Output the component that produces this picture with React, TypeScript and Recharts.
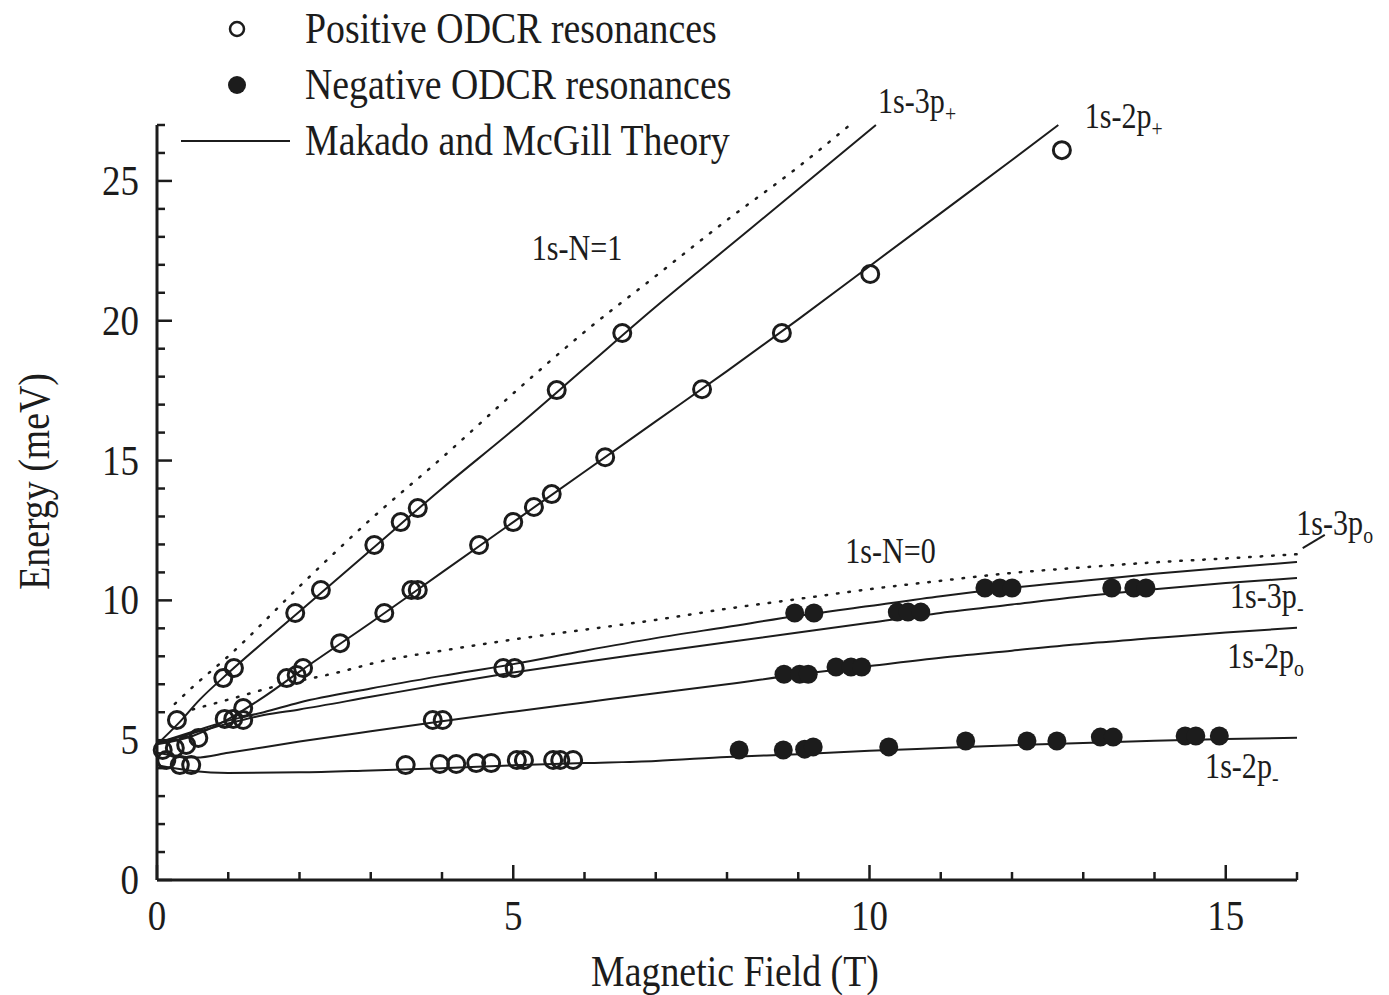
import React from "react";
import { ComposedChart, Line, Scatter, XAxis, YAxis, Legend, ReferenceDot, ReferenceLine } from "recharts";

const ink = "#1c1c1c";
const serif = "'Liberation Serif', 'Times New Roman', Times, serif";

// axis ticks (every 1 T / 1 meV, labelled every 5)
const fieldTicks = [0, 1, 2, 3, 4, 5, 6, 7, 8, 9, 10, 11, 12, 13, 14, 15, 16];
const energyTicks = [0, 1, 2, 3, 4, 5, 6, 7, 8, 9, 10, 11, 12, 13, 14, 15, 16, 17, 18, 19, 20, 21, 22, 23, 24, 25, 26, 27];

// Makado and McGill theory, [B (T), E (meV)]
const theory3pPlus = [[0, 4.85], [0.3, 5.6], [0.6, 6.45], [1, 7.4], [2, 9.6], [3, 11.8], [4, 14.0], [5, 16.1], [6, 18.3], [7, 20.5], [8, 22.6], [9, 24.7], [10.09, 27.0]];
const theory2pPlus = [[0, 4.85], [0.5, 5.15], [1, 5.75], [1.5, 6.55], [2, 7.45], [3, 9.2], [4, 11.0], [5, 12.8], [6, 14.6], [7, 16.4], [8, 18.2], [9, 20.05], [10, 21.95], [11, 23.85], [12, 25.75], [12.65, 27.0]];
const theory3p0 = [[0, 4.9], [0.5, 5.3], [1, 5.7], [1.5, 6.0], [2, 6.35], [3, 6.85], [4, 7.3], [5, 7.72], [6, 8.2], [7, 8.65], [8, 9.05], [9, 9.45], [10, 9.8], [11, 10.15], [12, 10.45], [13, 10.7], [14, 10.95], [15, 11.17], [16, 11.37]];
const theory3pMinus = [[0, 4.9], [0.5, 5.25], [1, 5.6], [1.5, 5.9], [2, 6.1], [3, 6.55], [4, 7.0], [5, 7.42], [6, 7.8], [7, 8.15], [8, 8.5], [9, 8.85], [10, 9.2], [11, 9.55], [12, 9.85], [13, 10.15], [14, 10.4], [15, 10.62], [16, 10.8]];
const theory2p0 = [[0, 4.55], [0.55, 4.38], [1, 4.55], [2, 4.95], [3, 5.32], [4, 5.68], [5, 6.02], [6, 6.35], [7, 6.68], [8, 7.0], [9, 7.35], [10, 7.65], [11, 7.95], [12, 8.2], [13, 8.45], [14, 8.65], [15, 8.85], [16, 9.02]];
const theory2pMinus = [[0, 4.1], [0.5, 3.9], [1, 3.83], [2, 3.85], [3, 3.92], [4, 4.0], [5, 4.1], [6, 4.18], [7, 4.26], [8, 4.4], [9, 4.5], [10, 4.62], [11, 4.72], [12, 4.82], [13, 4.9], [14, 4.98], [15, 5.04], [16, 5.09]];

// Landau level limits (dotted)
const landauN1 = [[0.25, 6.3], [0.5, 6.9], [1, 8.0], [2, 10.5], [3, 12.9], [4, 15.1], [5, 17.4], [6, 19.6], [7, 21.6], [8, 23.6], [9, 25.5], [9.7, 26.95]];
const landauN0 = [[0.5, 6.1], [1, 6.45], [1.7, 6.95], [2.5, 7.4], [3.2, 7.85], [4, 8.2], [5, 8.6], [6, 8.95], [7, 9.3], [8, 9.7], [9, 10.05], [10, 10.4], [11, 10.7], [12, 10.98], [13, 11.18], [14, 11.36], [15, 11.5], [16, 11.65]];

// positive ODCR resonances
const pos3pPlus = [[0.28, 5.72], [0.93, 7.22], [1.08, 7.58], [1.94, 9.55], [2.3, 10.37], [3.05, 11.98], [3.42, 12.8], [3.66, 13.3], [5.61, 17.52], [6.53, 19.56]];
const pos2pPlus = [[1.82, 7.22], [1.96, 7.33], [2.05, 7.58], [2.57, 8.47], [3.19, 9.55], [3.57, 10.37], [3.66, 10.37], [4.52, 11.98], [5.0, 12.8], [5.29, 13.34], [5.54, 13.8], [6.29, 15.12], [7.65, 17.55], [8.77, 19.56], [10.01, 21.67], [12.7, 26.1]];
const posLowField = [[0.08, 4.65], [0.13, 4.29], [0.25, 4.72], [0.32, 4.11], [0.41, 4.83], [0.48, 4.11], [0.58, 5.08], [0.95, 5.76], [1.07, 5.76], [1.21, 6.15], [1.21, 5.72]];
const posLowerBranches = [[3.87, 5.72], [4.01, 5.72], [4.86, 7.58], [5.02, 7.58]];
const pos2pMinus = [[3.49, 4.11], [3.97, 4.15], [4.2, 4.15], [4.48, 4.18], [4.69, 4.18], [5.05, 4.29], [5.15, 4.29], [5.56, 4.29], [5.66, 4.29], [5.84, 4.29]];

// negative ODCR resonances
const neg3p = [[8.95, 9.55], [9.22, 9.55], [10.39, 9.58], [10.54, 9.58], [10.72, 9.58], [11.62, 10.44], [11.83, 10.44], [12.0, 10.44], [13.4, 10.44], [13.71, 10.44], [13.88, 10.44]];
const neg2p0 = [[8.8, 7.36], [9.02, 7.36], [9.14, 7.36], [9.53, 7.62], [9.74, 7.62], [9.89, 7.62]];
const neg2pMinus = [[8.17, 4.65], [8.79, 4.65], [9.09, 4.68], [9.21, 4.76], [10.27, 4.76], [11.35, 4.97], [12.21, 4.97], [12.63, 4.97], [13.24, 5.11], [13.42, 5.11], [14.43, 5.15], [14.58, 5.15], [14.91, 5.15]];

// curve names: anchor at text start / baseline
const curveLabels = [
  { x: 10.12, y: 27.42, text: "1s-3p", sub: "+" },
  { x: 13.02, y: 26.89, text: "1s-2p", sub: "+" },
  { x: 5.26, y: 22.17, text: "1s-N=1", sub: "" },
  { x: 9.66, y: 11.33, text: "1s-N=0", sub: "" },
  { x: 15.99, y: 12.33, text: "1s-3p", sub: "o" },
  { x: 15.06, y: 9.72, text: "1s-3p", sub: "-" },
  { x: 15.02, y: 7.58, text: "1s-2p", sub: "o" },
  { x: 14.71, y: 3.65, text: "1s-2p", sub: "-" },
];
const leader3p0 = [{ x: 16.08, y: 11.87 }, { x: 16.39, y: 12.34 }];

const legendLabels = ["Positive ODCR resonances", "Negative ODCR resonances", "Makado and McGill Theory"];

const pts = (pairs: number[][]) => pairs.map(([x, y]) => ({ x, y }));

const solidCurves = [theory3pPlus, theory2pPlus, theory3p0, theory3pMinus, theory2p0, theory2pMinus];
const dottedCurves = [landauN1, landauN0];
const positive = pts([...pos3pPlus, ...pos2pPlus, ...posLowField, ...posLowerBranches, ...pos2pMinus]);
const negative = pts([...neg3p, ...neg2p0, ...neg2pMinus]);

const OpenRing = (p: any) => <circle cx={p.cx} cy={p.cy} r={8.5} fill="none" stroke={ink} strokeWidth={3} />;
const SolidDot = (p: any) => <circle cx={p.cx} cy={p.cy} r={9.5} fill={ink} />;

// narrow Times-like lettering
function NarrowText({ x, y, size, anchor = "start", children }: any) {
  return (
    <g transform={`translate(${x}, ${y}) scale(0.86, 1)`}>
      <text x={0} y={0} textAnchor={anchor} fontSize={size} fontFamily={serif} fill={ink}>
        {children}
      </text>
    </g>
  );
}

function FieldTick({ x, y, payload }: any) {
  const v = payload.value;
  const major = v % 5 === 0;
  return (
    <g>
      <line x1={x} y1={y} x2={x} y2={y - (major ? 15 : 8)} stroke={ink} strokeWidth={2.5} />
      {major && (
        <NarrowText x={x} y={y + 50} size={43} anchor="middle">
          {v}
        </NarrowText>
      )}
    </g>
  );
}

function EnergyTick({ x, y, payload }: any) {
  const v = payload.value;
  const major = v % 5 === 0;
  return (
    <g>
      <line x1={x} y1={y} x2={x + (major ? 15 : 8)} y2={y} stroke={ink} strokeWidth={2.5} />
      {major && (
        <NarrowText x={x - 18} y={y + 14} size={43} anchor="end">
          {v}
        </NarrowText>
      )}
    </g>
  );
}

function CurveName({ cx, cy, text, sub }: any) {
  return (
    <NarrowText x={cx} y={cy} size={35}>
      {text}
      {sub && (
        <tspan fontSize={23} dy={8}>
          {sub}
        </tspan>
      )}
    </NarrowText>
  );
}

function renderLegend() {
  return (
    <svg width={900} height={170} style={{ overflow: "visible" }}>
      <circle cx={237} cy={29} r={7} fill="none" stroke={ink} strokeWidth={2.5} />
      <circle cx={237} cy={85} r={9} fill={ink} />
      <line x1={181} y1={141} x2={290} y2={141} stroke={ink} strokeWidth={2} />
      {legendLabels.map((label, i) => (
        <NarrowText key={label} x={305} y={43 + i * 56} size={44}>
          {label}
        </NarrowText>
      ))}
    </svg>
  );
}

export default function App() {
  return (
    <div style={{ width: 1381, height: 987 }}>
      <ComposedChart width={1381} height={987} margin={{ top: 117, right: 92, left: 0, bottom: 0 }}>
        <XAxis
          type="number"
          dataKey="x"
          domain={[0, 16]}
          ticks={fieldTicks}
          interval={0}
          height={115}
          tickSize={0}
          tickMargin={0}
          tickLine={false}
          tick={FieldTick}
          axisLine={{ stroke: ink, strokeWidth: 3 }}
          label={{
            content: ({ viewBox }: any) => (
              <NarrowText x={viewBox.x + viewBox.width / 2 + 8} y={viewBox.y + 106} size={44} anchor="middle">
                Magnetic Field (T)
              </NarrowText>
            ),
          }}
        />
        <YAxis
          type="number"
          dataKey="y"
          domain={[0, 27]}
          ticks={energyTicks}
          interval={0}
          width={149}
          tickSize={0}
          tickMargin={0}
          tickLine={false}
          tick={EnergyTick}
          axisLine={{ stroke: ink, strokeWidth: 3 }}
          label={{
            content: ({ viewBox }: any) => (
              <g transform={`translate(${viewBox.x + 41}, ${viewBox.y + viewBox.height / 2 - 21}) rotate(-90)`}>
                <NarrowText x={0} y={0} size={44} anchor="middle">
                  Energy (meV)
                </NarrowText>
              </g>
            ),
          }}
        />
        <Legend layout="vertical" align="center" verticalAlign="middle" wrapperStyle={{ top: -8, left: -8, width: 900, height: 170 }} content={renderLegend} />

        {dottedCurves.map((c, i) => (
          <Line key={`n${i}`} data={pts(c)} dataKey="y" type="monotone" dot={false} stroke={ink} strokeWidth={2.5} strokeDasharray="1.5 10" strokeLinecap="round" isAnimationActive={false} legendType="none" />
        ))}
        {solidCurves.map((c, i) => (
          <Line key={`t${i}`} data={pts(c)} dataKey="y" type="monotone" dot={false} stroke={ink} strokeWidth={2} isAnimationActive={false} legendType="none" />
        ))}
        <Scatter data={positive} dataKey="y" shape={OpenRing} isAnimationActive={false} legendType="none" />
        <Scatter data={negative} dataKey="y" shape={SolidDot} isAnimationActive={false} legendType="none" />

        {curveLabels.map((l) => (
          <ReferenceDot key={`${l.text}${l.sub}${l.x}`} x={l.x} y={l.y} ifOverflow="visible" shape={(p: any) => <CurveName cx={p.cx} cy={p.cy} text={l.text} sub={l.sub} />} />
        ))}
        <ReferenceLine segment={leader3p0} ifOverflow="visible" stroke={ink} strokeWidth={2} />
      </ComposedChart>
    </div>
  );
}
